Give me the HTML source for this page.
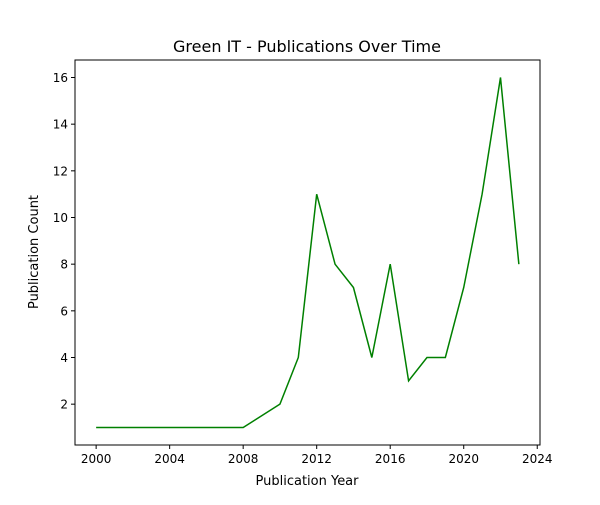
<!DOCTYPE html>
<html><head><meta charset="utf-8"><style>
body{margin:0;background:#fff;}
svg text{font-family:"DejaVu Sans","Liberation Sans",sans-serif;fill:#000;}
</style></head><body>
<svg id="chart" width="600" height="500" xmlns="http://www.w3.org/2000/svg">
<rect width="600" height="500" fill="#fff"/>
<text x="307" y="52" font-size="16" text-anchor="middle">Green IT - Publications Over Time</text>
<g id="axes"></g>
<rect x="75" y="60" width="465" height="385" fill="none" stroke="#000" stroke-width="1"/>
<text x="307" y="485" font-size="13" text-anchor="middle">Publication Year</text>
<text transform="translate(38,252) rotate(-90)" font-size="13" text-anchor="middle">Publication Count</text>
</svg>
<script>
const years=[2000,2001,2002,2003,2004,2005,2006,2007,2008,2010,2011,2012,2013,2014,2015,2016,2017,2018,2019,2020,2021,2022,2023];
const counts=[1,1,1,1,1,1,1,1,1,2,4,11,8,7,4,8,3,4,4,7,11,16,8];
const xTicks=[2000,2004,2008,2012,2016,2020,2024];
const yTicks=[2,4,6,8,10,12,14,16];
const L=75,R=540,T=60,B=445;
const xmin=1998.85,xmax=2024.15,ymin=0.25,ymax=16.75;
function sx(v){return L+(v-xmin)/(xmax-xmin)*(R-L);}
function sy(v){return B-(v-ymin)/(ymax-ymin)*(B-T);}
const NS="http://www.w3.org/2000/svg";
const g=document.getElementById('axes');
function mk(t,a){const e=document.createElementNS(NS,t);for(const k in a)e.setAttribute(k,a[k]);g.appendChild(e);return e;}
xTicks.forEach(v=>{
 const l=mk('line',{x1:sx(v),x2:sx(v),y1:B,y2:B+4,stroke:'#000'});
 
 
 const t=mk('text',{x:sx(v),y:B+18,'font-size':12,'text-anchor':'middle'});t.textContent=v;
 
 
});
yTicks.forEach(v=>{
 const l=mk('line',{x1:L-4,x2:L,y1:sy(v),y2:sy(v),stroke:'#000'});
 
 
 const t=mk('text',{x:L-7,y:sy(v)+4.5,'font-size':12,'text-anchor':'end'});t.textContent=v;
 
 
});
const p=mk('polyline',{points:years.map((y,i)=>sx(y)+','+sy(counts[i])).join(' '),fill:'none',stroke:'#008000','stroke-width':1.5});


</script>
</body></html>
